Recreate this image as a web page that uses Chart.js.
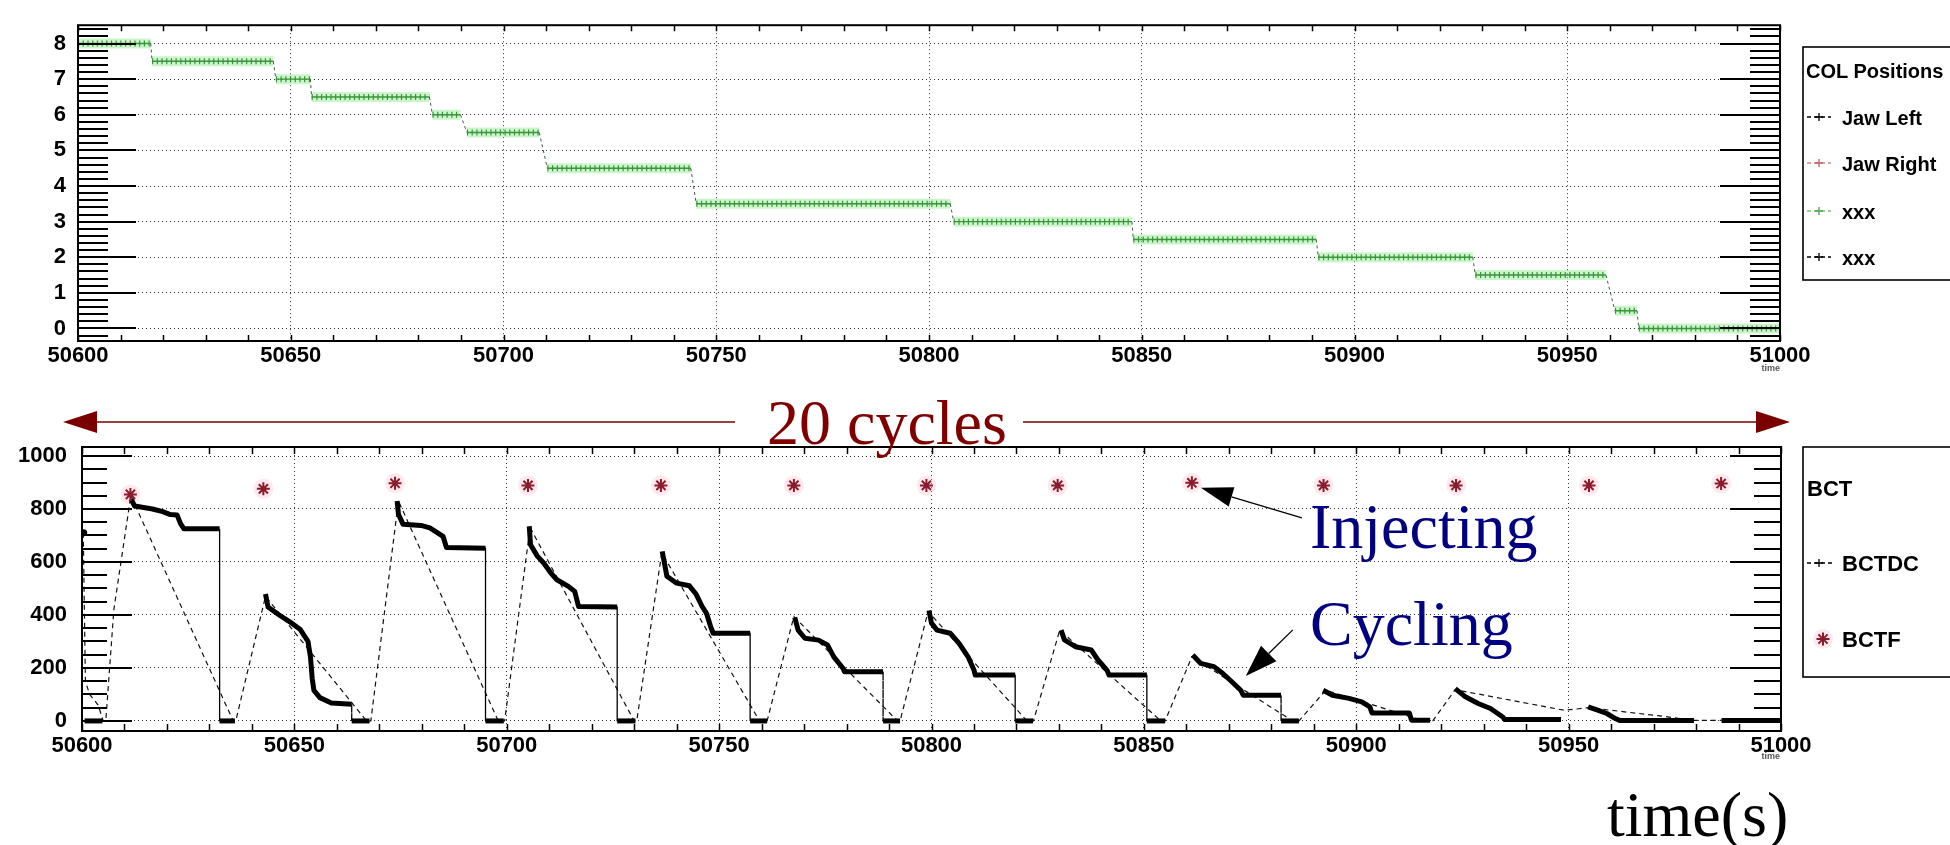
<!DOCTYPE html>
<html>
<head>
<meta charset="utf-8">
<script src="https://cdn.jsdelivr.net/npm/chart.js@4.4.1/dist/chart.umd.min.js"></script>
<style>
html,body{margin:0;padding:0;background:#fff;}
body{width:1950px;height:845px;position:relative;overflow:hidden;}
canvas{position:absolute;left:0;}
#c1{top:0;}
#c2{top:400px;}
#ov{position:absolute;left:0;top:0;}
</style>
</head>
<body>
<canvas id="c1" width="1950" height="400"></canvas>
<canvas id="c2" width="1950" height="400"></canvas>
<svg id="ov" width="1950" height="845" xmlns="http://www.w3.org/2000/svg">
  <g font-family="'Liberation Sans', Arial, sans-serif" font-weight="bold" fill="#000">
    <!-- top legend -->
    <rect x="1803" y="47" width="200" height="233" fill="#fff" stroke="#000" stroke-width="1.6"/>
    <text x="1806" y="78" font-size="20">COL Positions</text>
    <g stroke-width="1.3" fill="none">
      <line x1="1807" y1="117" x2="1831" y2="117" stroke="#000" stroke-dasharray="4 3"/>
      <path d="M1815 117h8M1819 113v8" stroke="#000"/>
      <line x1="1807" y1="163" x2="1831" y2="163" stroke="#c98a8a" stroke-dasharray="4 3"/>
      <path d="M1815 163h8M1819 159v8" stroke="#c06060"/>
      <line x1="1807" y1="211" x2="1831" y2="211" stroke="#7cc47c" stroke-dasharray="4 3"/>
      <path d="M1815 211h8M1819 207v8" stroke="#4ea24e"/>
      <line x1="1807" y1="257" x2="1831" y2="257" stroke="#000" stroke-dasharray="4 3"/>
      <path d="M1815 257h8M1819 253v8" stroke="#000"/>
    </g>
    <text x="1842" y="124.5" font-size="20">Jaw Left</text>
    <text x="1842" y="170.5" font-size="20">Jaw Right</text>
    <text x="1842" y="218.5" font-size="20">xxx</text>
    <text x="1842" y="264.5" font-size="20">xxx</text>
    <text x="1780" y="371" font-size="9" fill="#555" text-anchor="end">time</text>

    <!-- bottom legend -->
    <rect x="1803" y="447" width="200" height="230" fill="#fff" stroke="#000" stroke-width="1.6"/>
    <text x="1807" y="496" font-size="22">BCT</text>
    <g stroke-width="1.3" fill="none">
      <line x1="1807" y1="563" x2="1832" y2="563" stroke="#000" stroke-dasharray="4 3"/>
      <path d="M1815 563h8M1819 559v8" stroke="#000"/>
      <circle cx="1823" cy="639" r="10" fill="rgba(255,190,205,0.35)" stroke="none"/>
      <path d="M1816.5 639h13M1823 632.5v13M1818.4 634.4l9.2 9.2M1827.6 634.4l-9.2 9.2" stroke="#8b1a2b" stroke-width="2"/>
    </g>
    <text x="1842" y="571" font-size="22">BCTDC</text>
    <text x="1842" y="647" font-size="22">BCTF</text>
    <text x="1780" y="759" font-size="9" fill="#555" text-anchor="end">time</text>
  </g>
  <g font-family="'Liberation Serif', 'Times New Roman', serif" font-size="64">
    <text x="767" y="444" fill="#800000">20 cycles</text>
    <text x="1310" y="548" fill="#000080">Injecting</text>
    <text x="1310" y="645" fill="#000080">Cycling</text>
    <text x="1607" y="836" fill="#000">time(s)</text>
  </g>
</svg>
<script>
// ---------------- data ----------------
const xTickValues = [50600, 50650, 50700, 50750, 50800, 50850, 50900, 50950, 51000];
const xTickLabels = ['50600', '50650', '50700', '50750', '50800', '50850', '50900', '50950', '51000'];
const colYTicks = [0, 1, 2, 3, 4, 5, 6, 7, 8];
const colYLabels = ['0', '1', '2', '3', '4', '5', '6', '7', '8'];
const bctYTicks = [0, 200, 400, 600, 800, 1000];
const bctYLabels = ['0', '200', '400', '600', '800', '1000'];

// COL position ("xxx", green) : step ends
const colTime = [50600, 50617.1, 50617.4, 50645.9, 50646.5, 50654.6, 50654.9, 50682.6, 50683.3, 50689.9,
  50691.4, 50708.4, 50710.3, 50744.0, 50745.3, 50805.0, 50805.8, 50847.7, 50848.0, 50891.0,
  50891.5, 50927.8, 50928.4, 50959.1, 50961.2, 50966.4, 50966.8, 51000];
const colPos = [8, 8, 7.5, 7.5, 7, 7, 6.5, 6.5, 6, 6,
  5.5, 5.5, 4.5, 4.5, 3.5, 3.5, 3, 3, 2.5, 2.5,
  2, 2, 1.5, 1.5, 0.5, 0.5, 0, 0];

// BCTDC densely sampled parts (null = gap)
const denseTime = [
  50600.4, null,
  50600.6, 50604.8, null,
  50611.6, 50612.4, 50616.6, 50619.0, 50620.8, 50622.4, 50623.2, 50624.0, 50632.4, 50632.4, 50636.0, null,
  50643.2, 50643.8, 50646.6, 50649.3, 50651.4, 50653.2, 50653.8, 50654.2, 50654.6, 50656.0, 50658.7, 50663.5, 50663.5, 50667.7, null,
  50674.2, 50674.5, 50675.6, 50679.8, 50681.9, 50685.0, 50685.8, 50695.0, 50695.0, 50699.3, null,
  50705.3, 50705.6, 50707.2, 50708.7, 50710.3, 50711.8, 50714.5, 50716.0, 50716.9, 50726.0, 50726.0, 50730.3, null,
  50736.6, 50737.7, 50740.0, 50743.0, 50744.6, 50746.0, 50747.0, 50748.0, 50748.6, 50757.3, 50757.3, 50761.3, null,
  50767.8, 50768.6, 50770.2, 50773.4, 50775.5, 50777.0, 50779.2, 50779.5, 50788.6, 50788.6, 50792.6, null,
  50799.4, 50800.0, 50801.3, 50804.4, 50806.5, 50808.6, 50810.0, 50810.3, 50819.7, 50819.7, 50823.9, null,
  50830.5, 50831.3, 50833.9, 50837.6, 50839.2, 50841.3, 50841.8, 50850.7, 50850.7, 50855.0, null,
  50861.5, 50863.4, 50866.5, 50868.6, 50870.7, 50872.8, 50873.4, 50882.3, 50882.3, 50886.5, null,
  50892.2, 50894.4, 50898.3, 50901.3, 50903.2, 50903.7, 50912.5, 50913.0, 50917.4, null,
  50923.3, 50925.7, 50928.7, 50931.6, 50934.5, 50935.0, 50948.2, null,
  50954.6, 50957.0, 50959.0, 50961.0, 50962.0, 50979.5, null,
  50986.0, 51000.0
];
const denseVal = [
  710, null,
  0, 0, null,
  836, 811, 800, 790, 779, 777, 745, 725, 725, 0, 0, null,
  479, 430, 398, 370, 345, 300, 240, 160, 115, 88, 68, 63, 0, 0, null,
  830, 780, 742, 738, 729, 697, 655, 652, 0, 0, null,
  735, 665, 622, 596, 560, 533, 508, 489, 432, 430, 0, 0, null,
  640, 546, 520, 510, 478, 432, 407, 356, 331, 331, 0, 0, null,
  391, 343, 312, 305, 287, 242, 198, 186, 186, 0, 0, null,
  417, 369, 343, 331, 293, 242, 192, 173, 173, 0, 0, null,
  343, 306, 280, 268, 230, 192, 173, 173, 0, 0, null,
  249, 217, 205, 179, 148, 116, 97, 97, 0, 0, null,
  116, 97, 85, 72, 53, 30, 30, 3, 3, null,
  122, 91, 66, 47, 15, 5, 5, null,
  53, 40, 28, 9, 2, 2, null,
  2, 2
];

// BCTDC sparse samples (dashed connecting line)
const sparseTime = [50600.3, 50600.8, 50601.8, 50603.8, 50605.0, 50605.6, 50607.5, 50611.5, 50635.6, 50636.2,
  50643.2, 50667.0, 50668.0, 50674.5, 50698.0, 50699.5, 50705.5, 50730.0, 50730.6, 50736.5,
  50759.5, 50761.3, 50767.6, 50792.0, 50792.6, 50799.2, 50822.5, 50824.0, 50830.2, 50854.0,
  50855.0, 50861.3, 50885.0, 50886.5, 50892.8, 50916.0, 50918.0, 50923.3, 50949.0, 50954.6,
  50971.0, 50979.5, 50986.0];
const sparseVal = [710, 150, 100, 60, 0, 0, 420, 850, 0, 0,
  470, 0, 0, 830, 0, 0, 730, 0, 0, 635,
  0, 0, 394, 0, 0, 413, 0, 0, 343, 0,
  0, 242, 0, 0, 116, 0, 0, 118, 40, 50,
  20, 2, 2];

// BCTF (injections)
const bctfTime = [50611.4, 50642.7, 50673.7, 50705.0, 50736.3, 50767.6, 50798.8, 50829.7, 50861.3, 50892.3, 50923.5, 50954.8, 50985.9];
const bctfVal = [855, 876, 897, 889, 889, 889, 889, 889, 899, 889, 889, 889, 896];

// annotation anchor (data units) for the "Cycling" arrow
const cyclingAnchor = {t: 50874, v: 170};

// ---------------- helpers ----------------
Chart.defaults.font.family = "'Liberation Sans', Arial, sans-serif";
const toXY = (ts, vs) => ts.map((t, i) => (vs[i] === null ? {x: (i > 0 ? ts[i - 1] : t), y: null} : {x: t, y: vs[i]}));

const rootAxes = {
  id: 'rootAxes',
  afterDatasetsDraw(chart, args, o) {
    const {ctx, chartArea: a, scales: {x, y}} = chart;
    ctx.save();
    ctx.strokeStyle = '#000';
    ctx.lineWidth = 2;
    ctx.beginPath();
    const n0 = Math.ceil(y.min / o.yMinor - 1e-6), n1 = Math.floor(y.max / o.yMinor + 1e-6);
    for (let k = n0; k <= n1; k++) {
      const v = k * o.yMinor;
      const r = v / o.yMajor;
      const major = Math.abs(r - Math.round(r)) < 1e-6;
      const py = Math.round(y.getPixelForValue(v));
      const lL = major ? o.yMajL : o.yMinL, lR = major ? o.yMajR : o.yMinR;
      ctx.moveTo(a.left, py); ctx.lineTo(a.left + lL, py);
      ctx.moveTo(a.right - lR, py); ctx.lineTo(a.right, py);
    }
    ctx.stroke();
    ctx.lineWidth = 1.5;
    ctx.beginPath();
    const m1 = Math.round((x.max - x.min) / o.xMinor);
    for (let k = 0; k <= m1; k++) {
      const px = Math.round(x.getPixelForValue(x.min + k * o.xMinor)) + 0.5;
      ctx.moveTo(px, a.bottom); ctx.lineTo(px, a.bottom - o.xLen);
      ctx.moveTo(px, a.top); ctx.lineTo(px, a.top + o.xLen);
    }
    ctx.stroke();
    ctx.lineWidth = 2;
    ctx.strokeRect(a.left, a.top, a.right - a.left, a.bottom - a.top);
    ctx.restore();
  }
};

function arrow(ctx, tx, ty, fx, fy, len, hw, color, lw) {
  const dx = fx - tx, dy = fy - ty, d = Math.hypot(dx, dy), ux = dx / d, uy = dy / d;
  const bx = tx + ux * len, by = ty + uy * len;
  ctx.strokeStyle = color; ctx.fillStyle = color; ctx.lineWidth = lw;
  ctx.beginPath(); ctx.moveTo(bx, by); ctx.lineTo(fx, fy); ctx.stroke();
  ctx.beginPath(); ctx.moveTo(tx, ty);
  ctx.lineTo(bx - uy * hw, by + ux * hw); ctx.lineTo(bx + uy * hw, by - ux * hw);
  ctx.closePath(); ctx.fill();
}

const annot = {
  id: 'annot',
  afterDraw(chart) {
    const {ctx, chartArea: a, scales: {x, y}} = chart;
    ctx.save();
    const yA = a.top - 25;
    arrow(ctx, a.left - 19, yA, 735, yA, 34, 11, '#7a0000', 1.3);
    arrow(ctx, a.right + 9, yA, 1023, yA, 34, 11, '#7a0000', 1.3);
    const ix = x.getPixelForValue(bctfTime[8]) + 9, iy = y.getPixelForValue(bctfVal[8]) + 5;
    arrow(ctx, ix, iy, ix + 101, iy + 30, 32, 10, '#000', 1.3);
    const cx = x.getPixelForValue(cyclingAnchor.t), cy = y.getPixelForValue(cyclingAnchor.v);
    arrow(ctx, cx, cy, cx + 47, cy - 46, 32, 11, '#000', 1.3);
    ctx.restore();
  }
};

const tickFont = {family: "'Liberation Sans', Arial, sans-serif", size: 22, weight: 'bold'};
const gridStyle = {color: 'rgba(0,0,0,0.8)', lineWidth: 1, drawTicks: false};

function xScale(h) {
  return {
    type: 'linear', min: 50600, max: 51000,
    afterBuildTicks: s => { s.ticks = xTickValues.map(v => ({value: v})); },
    afterFit: s => { s.height = h; },
    grid: gridStyle,
    border: {display: false, dash: [1, 3]},
    ticks: {font: tickFont, color: '#000', padding: 2, maxRotation: 0, autoSkip: false,
      callback: (v, i) => xTickLabels[i]}
  };
}
function yScale(min, max, vals, labels, w, pad) {
  return {
    type: 'linear', min: min, max: max,
    afterBuildTicks: s => { s.ticks = vals.map(v => ({value: v})); },
    afterFit: s => { s.width = w; },
    grid: gridStyle,
    border: {display: false, dash: [1, 3]},
    ticks: {font: tickFont, color: '#000', padding: pad, autoSkip: false,
      callback: (v, i) => labels[i]}
  };
}

// ---------------- top chart: COL positions ----------------
const colData = toXY(colTime, colPos);
const flat = c => c.p0.parsed.y === c.p1.parsed.y;
new Chart(document.getElementById('c1'), {
  type: 'line',
  data: {datasets: [
    {label: 'xxx', data: colData, borderColor: 'rgb(55,150,55)', borderWidth: 1.4, pointRadius: 0,
      segment: {borderDash: c => flat(c) ? [] : [3, 3], borderColor: c => flat(c) ? 'rgb(55,150,55)' : 'rgb(60,95,60)',
        borderWidth: c => flat(c) ? 1.4 : 1}},
    {label: 'xxx markers', data: colData, borderColor: 'rgba(40,125,40,0.85)', borderWidth: 6, borderDash: [1.2, 3.5], pointRadius: 0,
      segment: {borderColor: c => flat(c) ? 'rgba(40,125,40,0.85)' : 'rgba(0,0,0,0)'}},
    {label: 'xxx glow', data: colData, borderColor: 'rgba(140,235,140,0.45)', borderWidth: 10, pointRadius: 0,
      segment: {borderColor: c => flat(c) ? 'rgba(140,235,140,0.45)' : 'rgba(0,0,0,0)'}}
  ]},
  options: {
    responsive: false, animation: false, devicePixelRatio: 1,
    layout: {padding: {top: 13, right: 170, bottom: 19, left: 0}},
    plugins: {legend: {display: false}, tooltip: {enabled: false},
      rootAxes: {yMajor: 1, yMinor: 0.2, yMajL: 58, yMinL: 30, yMajR: 60, yMinR: 30, xMinor: 10, xLen: 6}},
    scales: {x: xScale(40), y: yScale(-0.351, 8.514, colYTicks, colYLabels, 78, 12)}
  },
  plugins: [rootAxes]
});

// ---------------- bottom chart: BCT ----------------
const denseData = toXY(denseTime, denseVal);
const sparseData = toXY(sparseTime, sparseVal);
const bctfData = toXY(bctfTime, bctfVal);
const isDrop = c => c.p0.parsed.x === c.p1.parsed.x && Math.abs(c.p0.parsed.y - c.p1.parsed.y) > 50;
const isolated = c => {
  const i = c.dataIndex;
  return denseVal[i] !== null && (i === 0 || denseVal[i - 1] === null) && (i === denseVal.length - 1 || denseVal[i + 1] === null);
};
new Chart(document.getElementById('c2'), {
  type: 'line',
  data: {datasets: [
    {label: 'BCTF', data: bctfData, showLine: false, pointStyle: 'star', pointRadius: 6.5,
      pointBorderColor: '#8b1a2b', pointBorderWidth: 2, pointBackgroundColor: '#8b1a2b', order: 0},
    {label: 'BCTDC', data: denseData, borderColor: '#000', borderWidth: 5, borderJoinStyle: 'round',
      pointRadius: c => isolated(c) ? 3.5 : 0, pointBackgroundColor: '#000', pointBorderWidth: 0,
      segment: {borderWidth: c => isDrop(c) ? 1.3 : 5, borderDash: c => isDrop(c) ? [6, 3] : []}, order: 1},
    {label: 'BCTDC sparse', data: sparseData, borderColor: '#111', borderWidth: 1.2, borderDash: [5, 4], pointRadius: 0, order: 2},
    {label: 'BCTF glow', data: bctfData, showLine: false, pointStyle: 'circle', pointRadius: 10,
      pointBackgroundColor: 'rgba(255,190,205,0.35)', pointBorderWidth: 0, order: 3}
  ]},
  options: {
    responsive: false, animation: false, devicePixelRatio: 1,
    layout: {padding: {top: 47, right: 169, bottom: 29, left: 0}},
    plugins: {legend: {display: false}, tooltip: {enabled: false},
      rootAxes: {yMajor: 200, yMinor: 50, yMajL: 50, yMinL: 25, yMajR: 51, yMinR: 27, xMinor: 10, xLen: 7}},
    scales: {x: xScale(40), y: yScale(-38, 1034, bctYTicks, bctYLabels, 82, 15)}
  },
  plugins: [rootAxes, annot]
});
</script>
</body>
</html>
